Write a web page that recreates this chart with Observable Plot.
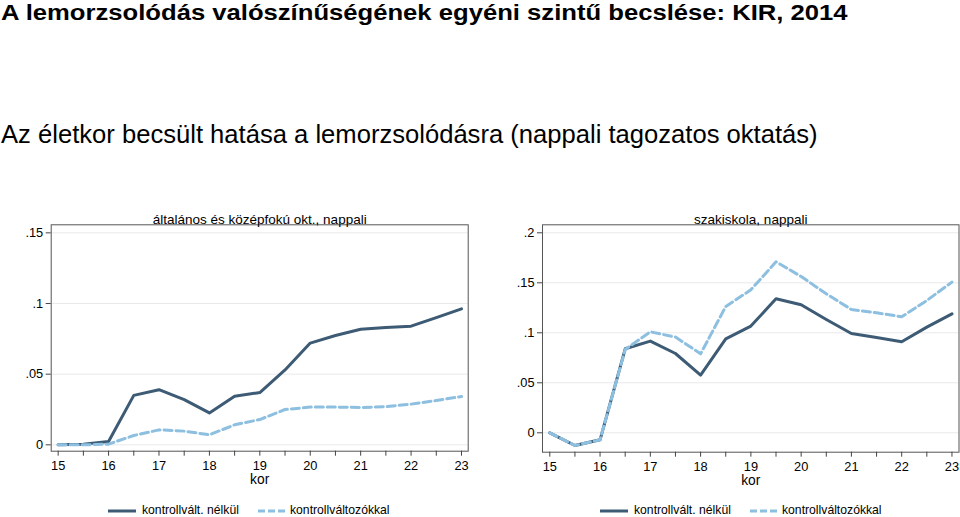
<!DOCTYPE html>
<html>
<head>
<meta charset="utf-8">
<script src="https://cdn.jsdelivr.net/npm/d3@7"></script>
<script src="https://cdn.jsdelivr.net/npm/@observablehq/plot@0.6"></script>
<style>
  body { margin: 0; background: #fff; }
  #root { position: relative; width: 960px; height: 517px; overflow: hidden; font-family: "Liberation Sans", Arial, sans-serif; color: #000; }
  .title { position: absolute; left: 1px; top: -0.5px; font-size: 22px; font-weight: bold; white-space: nowrap; line-height: normal; transform-origin: 0 0; transform: scaleX(1.165); }
  .subtitle { position: absolute; left: 1px; top: 120px; font-size: 25.6px; white-space: nowrap; line-height: normal; }
  .panel { position: absolute; top: 200px; }
  .legend { position: absolute; top: 502px; font-size: 12.2px; white-space: nowrap; }
  .legend span { position: absolute; top: 1px; }
  .legend svg { position: absolute; top: 0; }
</style>
</head>
<body>
<div id="root">
  <div class="title">A lemorzsolódás valószínűségének egyéni szintű becslése: KIR, 2014</div>
  <div class="subtitle">Az életkor becsült hatása a lemorzsolódásra (nappali tagozatos oktatás)</div>
</div>
<script>
// ---- data ----
const ages = [15, 15.5, 16, 16.5, 17, 17.5, 18, 18.5, 19, 19.5, 20, 20.5, 21, 21.5, 22, 22.5, 23];
const leftNelkul   = [0, 0.0005, 0.0024, 0.035, 0.039, 0.032, 0.0226, 0.0344, 0.037, 0.053, 0.072, 0.0774, 0.0818, 0.083, 0.084, 0.090, 0.0962];
const leftKontroll = [0, 0, 0.0005, 0.0066, 0.0106, 0.0097, 0.0071, 0.0142, 0.0179, 0.025, 0.0267, 0.0267, 0.0264, 0.027, 0.0288, 0.0314, 0.0342];
const rightNelkul   = [0, -0.0127, -0.007, 0.084, 0.0917, 0.0793, 0.0577, 0.094, 0.1067, 0.134, 0.128, 0.1133, 0.0993, 0.0953, 0.091, 0.1057, 0.119];
const rightKontroll = [0, -0.0127, -0.007, 0.0833, 0.101, 0.0957, 0.079, 0.1263, 0.143, 0.171, 0.1563, 0.139, 0.1233, 0.12, 0.116, 0.1323, 0.1507];
const xMajorTicks = [15, 16, 17, 18, 19, 20, 21, 22, 23];
const xMinorTicks = [15.5, 16.5, 17.5, 18.5, 19.5, 20.5, 21.5, 22.5];
const leftYTicks = [0, 0.05, 0.1, 0.15];
const rightYTicks = [0, 0.05, 0.1, 0.15, 0.2];
const leftTitle = "általános és középfokú okt., nappali";
const rightTitle = "szakiskola, nappali";
const xLabel = "kor";
const seriesNames = ["kontrollvált. nélkül", "kontrollváltozókkal"];

const cSolid = "#3d5b74";
const cDash = "#8dbfe0";
const fmtY = d => d === 0 ? "0" : String(d).replace(/^0\./, ".");
const FS = 12.8;

function panel({title, nelkul, kontroll, yTicks, xDomain, yDomain, marginLeft, marginRight, marginBottom}) {
  const dN = ages.map((a, i) => ({age: a, v: nelkul[i]}));
  const dK = ages.map((a, i) => ({age: a, v: kontroll[i]}));
  return Plot.plot({
    width: 480,
    height: 300,
    marginTop: 24.3,
    marginBottom,
    marginLeft,
    marginRight,
    style: {fontFamily: '"Liberation Sans", Arial, sans-serif', fontSize: FS + "px", color: "#000", background: "transparent"},
    x: {domain: xDomain},
    y: {domain: yDomain},
    marks: [
      Plot.gridY(yTicks, {stroke: "#e9e9e9", strokeOpacity: 1}),
      Plot.frame({stroke: "#555", strokeWidth: 1}),
      Plot.axisY(yTicks, {tickSize: 5, tickPadding: 3, tickFormat: fmtY, label: null, stroke: "#444", fontSize: FS}),
      Plot.axisX(xMajorTicks, {tickSize: 5, tickPadding: 5, label: null, stroke: "#444", fontSize: FS}),
      Plot.axisX(xMinorTicks, {tickSize: 5, tickFormat: () => "", label: null, stroke: "#444"}),
      Plot.text([xLabel], {frameAnchor: "bottom", dy: 33, fontSize: 13.8}),
      Plot.text([title], {frameAnchor: "top", dy: -10.5, fontSize: 13.5}),
      Plot.lineY(dN, {x: "age", y: "v", stroke: cSolid, strokeWidth: 3}),
      Plot.lineY(dK, {x: "age", y: "v", stroke: cDash, strokeWidth: 3, strokeDasharray: "8,4"})
    ]
  });
}

const root = document.getElementById("root");

function addPanel(left, plot) {
  const div = document.createElement("div");
  div.className = "panel";
  div.style.left = left + "px";
  div.appendChild(plot);
  root.appendChild(div);
}

addPanel(0, panel({
  title: leftTitle, nelkul: leftNelkul, kontroll: leftKontroll, yTicks: leftYTicks,
  xDomain: [14.862, 23.133], yDomain: [-0.0045, 0.1557],
  marginLeft: 50.7, marginRight: 12.3, marginBottom: 49.3
}));
addPanel(480, panel({
  title: rightTitle, nelkul: rightNelkul, kontroll: rightKontroll, yTicks: rightYTicks,
  xDomain: [14.855, 23.14], yDomain: [-0.0194, 0.208],
  marginLeft: 62, marginRight: 1.5, marginBottom: 48.3
}));

function addLegend(x0) {
  const lg = document.createElement("div");
  lg.className = "legend";
  lg.style.left = x0 + "px";
  lg.innerHTML =
    `<svg width="30" height="18" style="left:0"><line x1="1" x2="29" y1="9" y2="9" stroke="${cSolid}" stroke-width="3"/></svg>` +
    `<span style="left:35px">${seriesNames[0]}</span>` +
    `<svg width="30" height="18" style="left:150px"><line x1="1" x2="29" y1="9" y2="9" stroke="${cDash}" stroke-width="3" stroke-dasharray="7,3"/></svg>` +
    `<span style="left:183px">${seriesNames[1]}</span>`;
  root.appendChild(lg);
}
addLegend(107);
addLegend(599);
</script>
</body>
</html>
